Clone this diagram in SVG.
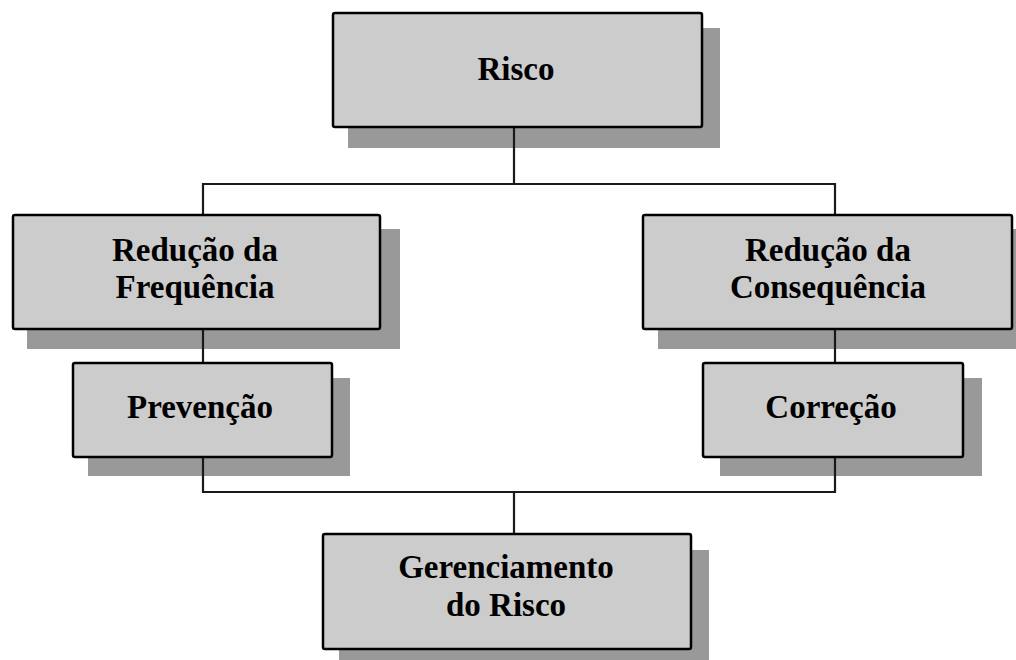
<svg xmlns="http://www.w3.org/2000/svg" width="1016" height="660" viewBox="0 0 1016 660">
<style>
.shadow{fill:#999999;}
.box{fill:#cccccc;stroke:#000;stroke-width:2.5;}
.lbl{font-family:"Liberation Serif","Times New Roman",serif;font-weight:bold;font-size:33px;fill:#000;text-anchor:middle;}
.conn{fill:none;stroke:#1a1a1a;stroke-width:2.2;}
</style>
<rect width="1016" height="660" fill="#ffffff"/>
<g id="shadows">
<rect class="shadow" x="348" y="28" width="372" height="120"/>
<rect class="shadow" x="27" y="229" width="373" height="120"/>
<rect class="shadow" x="658" y="229" width="360" height="120"/>
<rect class="shadow" x="88" y="378" width="262" height="98"/>
<rect class="shadow" x="720" y="378" width="262" height="98"/>
<rect class="shadow" x="339" y="550" width="370" height="120"/>
</g>
<g id="connectors">
<path class="conn" d="M514 127 V184 M203 215 V184 H835 V215"/>
<path class="conn" d="M203 329 V363 M835 329 V363"/>
<path class="conn" d="M203 457 V492 H835 V457 M514 492 V534"/>
</g>
<g id="risco">
<rect class="box" x="333" y="13" width="369" height="114" rx="2"/>
<text class="lbl" x="516" y="80">Risco</text>
</g>
<g id="reducao-frequencia">
<rect class="box" x="13" y="215" width="367" height="114" rx="2"/>
<text class="lbl" x="195" y="261">Redução da</text>
<text class="lbl" x="195" y="298">Frequência</text>
</g>
<g id="reducao-consequencia">
<rect class="box" x="643" y="215" width="369" height="114" rx="2"/>
<text class="lbl" x="828" y="261">Redução da</text>
<text class="lbl" x="828" y="298">Consequência</text>
</g>
<g id="prevencao">
<rect class="box" x="73" y="363" width="259" height="94" rx="2"/>
<text class="lbl" x="200" y="418">Prevenção</text>
</g>
<g id="correcao">
<rect class="box" x="703" y="363" width="260" height="94" rx="2"/>
<text class="lbl" x="831" y="418">Correção</text>
</g>
<g id="gerenciamento">
<rect class="box" x="323" y="534" width="368" height="115" rx="2"/>
<text class="lbl" x="506" y="578">Gerenciamento</text>
<text class="lbl" x="506" y="616">do Risco</text>
</g>
</svg>
